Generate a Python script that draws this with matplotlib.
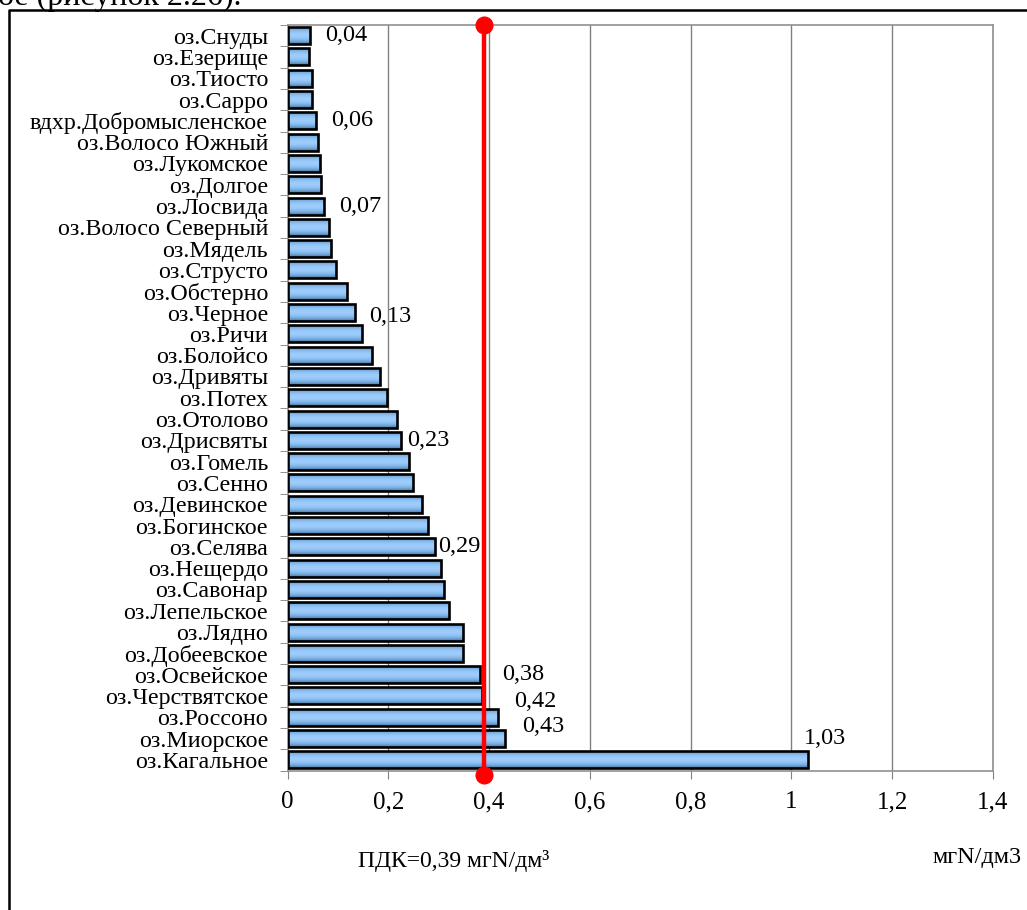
import matplotlib
matplotlib.use('Agg')
import matplotlib.pyplot as plt
import numpy as np
from matplotlib.colors import LinearSegmentedColormap
from matplotlib.lines import Line2D

# ---------------- data ----------------
categories = [
    'оз.Снуды', 'оз.Езерище', 'оз.Тиосто', 'оз.Сарро', 'вдхр.Добромысленское',
    'оз.Волосо Южный', 'оз.Лукомское', 'оз.Долгое', 'оз.Лосвида', 'оз.Волосо Северный',
    'оз.Мядель', 'оз.Струсто', 'оз.Обстерно', 'оз.Черное', 'оз.Ричи',
    'оз.Болойсо', 'оз.Дривяты', 'оз.Потех', 'оз.Отолово', 'оз.Дрисвяты',
    'оз.Гомель', 'оз.Сенно', 'оз.Девинское', 'оз.Богинское', 'оз.Селява',
    'оз.Нещердо', 'оз.Савонар', 'оз.Лепельское', 'оз.Лядно', 'оз.Добеевское',
    'оз.Освейское', 'оз.Черствятское', 'оз.Россоно', 'оз.Миорское', 'оз.Кагальное',
]
values = [
    0.044, 0.043, 0.048, 0.048, 0.057,
    0.060, 0.065, 0.067, 0.073, 0.082,
    0.087, 0.097, 0.119, 0.133, 0.148,
    0.168, 0.184, 0.197, 0.218, 0.226,
    0.242, 0.250, 0.267, 0.278, 0.293,
    0.305, 0.311, 0.320, 0.348, 0.348,
    0.382, 0.385, 0.418, 0.432, 1.033,
]
value_labels = {
    'оз.Снуды': '0,04',
    'вдхр.Добромысленское': '0,06',
    'оз.Лосвида': '0,07',
    'оз.Черное': '0,13',
    'оз.Дрисвяты': '0,23',
    'оз.Селява': '0,29',
    'оз.Освейское': '0,38',
    'оз.Россоно': '0,42',
    'оз.Миорское': '0,43',
    'оз.Кагальное': '1,03',
}
pdk_value = 0.39
x_ticks = [0, 0.2, 0.4, 0.6, 0.8, 1.0, 1.2, 1.4]
x_tick_labels = ['0', '0,2', '0,4', '0,6', '0,8', '1', '1,2', '1,4']
pdk_text = 'ПДК=0,39 мгN/дм³'
unit_text = 'мгN/дм3'
caption_text = 'ое (рисунок 2.26).'

# label offsets (pixels) – styling only
label_offsets = {
    'оз.Снуды': (15, 0),
    'вдхр.Добромысленское': (15, 0),
    'оз.Лосвида': (15, 0),
    'оз.Черное': (15, -4),
    'оз.Дрисвяты': (6, 0),
    'оз.Селява': (3, 0),
    'оз.Освейское': (22, 0),
    'оз.Россоно': (16, 16),
    'оз.Миорское': (17, 12),
    'оз.Кагальное': (-4, 21),
}

plt.rcParams['font.family'] = ['Liberation Serif', 'DejaVu Serif']

W, H = 1027, 910
fig = plt.figure(figsize=(W / 100, H / 100), dpi=100)
fig.patch.set_facecolor('white')

left, right, top, bottom = 287.5, 993, 25, 770.5
ax = fig.add_axes([left / W, 1 - bottom / H, (right - left) / W, (bottom - top) / H])

n = len(categories)
y = np.arange(n)
bars = ax.barh(y, values, height=0.8, color='#8ec0f0', edgecolor='none', zorder=3)

# vertical gradient inside each bar
grad = np.linspace(0, 1, 64)
prof = np.sin(grad * np.pi) ** 0.7
prof = prof.reshape(-1, 1)
cmap = LinearSegmentedColormap.from_list('barblue', ['#35607f', '#6b9fd2', '#9ccdfd'])
for b in bars:
    x0, y0, w, h = b.get_x(), b.get_y(), b.get_width(), b.get_height()
    im = ax.imshow(prof, extent=[x0, x0 + w, y0, y0 + h], aspect='auto', cmap=cmap,
                   vmin=0, vmax=1, interpolation='bilinear', zorder=3.5)
    im.set_clip_path(b)

ax.barh(y, values, height=0.8, facecolor='none', edgecolor='black', linewidth=1.9, zorder=4)

ax.set_xlim(0, 1.4)
ax.set_ylim(n - 0.5, -0.5)
ax.set_aspect('auto')

ax.set_xticks(x_ticks)
ax.set_xticklabels(x_tick_labels, fontsize=18)
ax.set_yticks(y)
ax.set_yticklabels(categories, fontsize=17.3)
ax.set_yticks(np.arange(n + 1) - 0.5, minor=True)

ax.tick_params(axis='y', which='major', length=0, pad=14)
ax.tick_params(axis='y', which='minor', length=6, color='#808080', direction='out')
ax.tick_params(axis='x', which='major', length=6, color='#808080', direction='out', pad=9)

ax.xaxis.grid(True, color='#808080', linewidth=1, zorder=0)
ax.set_axisbelow(True)
for s in ['left', 'bottom', 'top', 'right']:
    ax.spines[s].set_color('#909090')
    ax.spines[s].set_linewidth(1.2)

# PDK line
ax.plot([pdk_value, pdk_value], [-0.5, n - 0.5 + 0.22], color='#ff0000', lw=3.2,
        marker='o', markersize=12, clip_on=False, zorder=6, solid_capstyle='butt')

# value labels
for i, cat in enumerate(categories):
    if cat in value_labels:
        dx, dy = label_offsets.get(cat, (10, 0))
        ax.annotate(value_labels[cat], xy=(values[i], i), xytext=(dx, dy),
                    textcoords='offset pixels', ha='left', va='center',
                    fontsize=17.5, zorder=7)

# texts under chart
fig.text(358 / W, 1 - 861 / H, pdk_text, fontsize=17, ha='left', va='center')
fig.text(1022 / W, 1 - 858 / H, unit_text, fontsize=17.5, ha='right', va='center')

# caption fragment at top (cut off)
fig.text(-2 / W, 1 - 5 / H, caption_text, fontsize=23, ha='left', va='baseline')

# outer frame
fig.add_artist(Line2D([9 / W, 9 / W, 1.01], [-0.01, 1 - 10 / H, 1 - 10 / H],
                      transform=fig.transFigure, color='black', lw=1.8))

fig.savefig('out.png', dpi=100)
